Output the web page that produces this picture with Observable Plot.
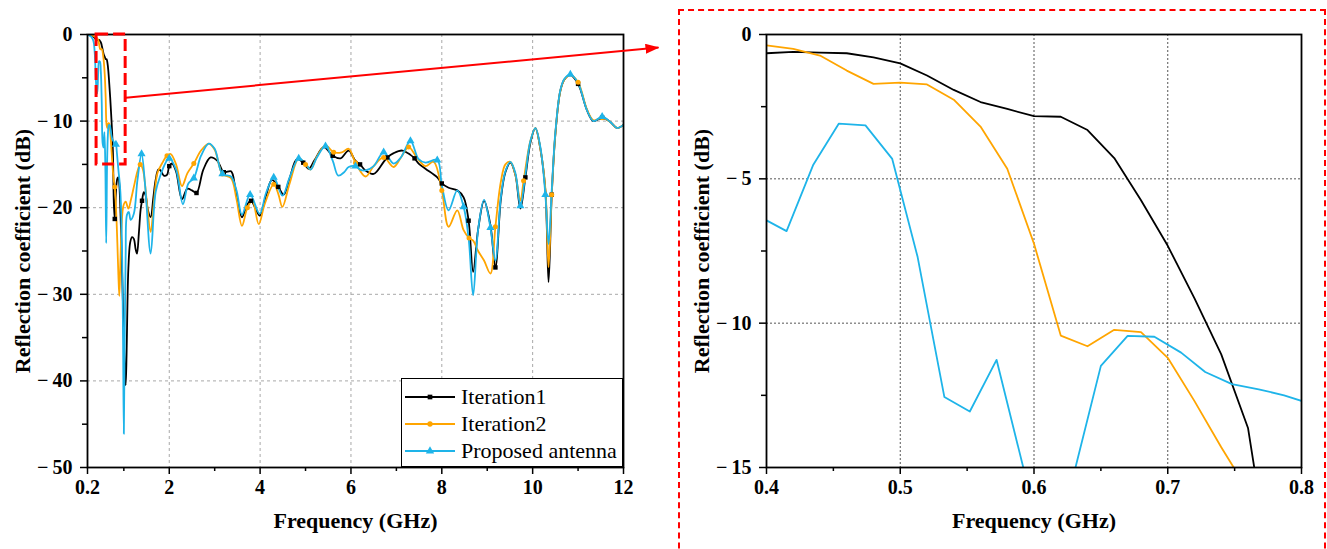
<!DOCTYPE html>
<html><head><meta charset="utf-8">
<script src="https://cdn.jsdelivr.net/npm/d3@7"></script>
<script src="https://cdn.jsdelivr.net/npm/@observablehq/plot@0.6"></script>
<style>
html,body{margin:0;padding:0;background:#fff;overflow:hidden;}
#wrap{position:relative;width:1327px;height:549px;overflow:hidden;}
#left{position:absolute;left:0;top:0;}
#right{position:absolute;left:680px;top:0;}
#frame{position:absolute;left:678px;top:9px;width:648px;height:620px;border:2px dashed #ff0000;box-sizing:border-box;pointer-events:none;}
#legend{position:absolute;left:401px;top:378px;width:222px;height:89px;border:1.5px solid #000;box-sizing:border-box;background:#fff;font-family:'Liberation Serif','Times New Roman',serif;font-size:22px;padding-top:4px;}
#legend .row{display:flex;align-items:center;height:27px;padding-left:2px;}
#legend svg{margin-right:5px;}
</style></head>
<body><div id="wrap"><div id="left"></div><div id="right"></div><div id="legend"></div><div id="frame"></div></div>
<script>
// ---------------- data ----------------
const seriesNames = ["Iteration1", "Iteration2", "Proposed antenna"];
const seriesColors = ["#000000", "#FFA500", "#1EB4E9"];
const seriesSymbols = ["square", "circle", "triangle"];

// [frequency GHz, reflection coefficient dB]
const iteration1 = [
 [0.2,0],[0.22,0],[0.24,-0.02],[0.26,-0.05],[0.28,-0.1],[0.3,-0.15],[0.32,-0.2],[0.34,-0.3],[0.36,-0.4],[0.38,-0.55],
 [0.4,-0.65],[0.42,-0.6],[0.44,-0.63],[0.46,-0.65],[0.48,-0.79],[0.5,-1.0],[0.52,-1.42],[0.54,-1.92],[0.56,-2.34],[0.58,-2.58],
 [0.6,-2.83],[0.62,-2.85],[0.64,-3.31],[0.66,-4.28],[0.68,-5.74],[0.7,-7.32],[0.72,-9.14],[0.74,-11.08],[0.76,-13.63],[0.78,-19.5],
 [0.8,-21.3],[0.82,-18.8],[0.84,-17.2],[0.86,-16.6],[0.88,-16.5],[0.9,-17.3],[0.92,-19.5],[0.94,-23],[0.96,-27],[0.98,-31],
 [1.0,-35],[1.02,-38.5],[1.04,-40.5],[1.06,-37],[1.08,-31],[1.1,-27],[1.14,-24],[1.18,-23.4],[1.22,-23.6],[1.26,-24.8],
 [1.29,-25.3],[1.33,-23],[1.37,-20.2],[1.4,-19.2],[1.44,-18.2],[1.48,-18.6],[1.53,-20.3],[1.59,-21.1],[1.65,-18.8],[1.7,-16.8],
 [1.76,-15.6],[1.81,-15.7],[1.88,-16.3],[1.95,-16.2],[2.0,-15.2],[2.06,-14.9],[2.15,-15.8],[2.28,-19.0],[2.4,-17.8],[2.5,-18.0],
 [2.6,-18.3],[2.75,-15.6],[2.91,-14.2],[3.06,-14.6],[3.2,-15.9],[3.36,-15.8],[3.45,-17.6],[3.6,-21.1],[3.72,-19.6],[3.8,-19.2],
 [3.99,-20.9],[4.13,-18.6],[4.26,-16.8],[4.4,-17.6],[4.52,-18.5],[4.65,-16.6],[4.81,-14.4],[4.95,-14.8],[5.07,-15.5],[5.2,-14.5],
 [5.4,-13.0],[5.6,-14.0],[5.77,-14.3],[5.95,-13.4],[6.1,-14.6],[6.2,-15.0],[6.32,-15.7],[6.5,-16.1],[6.72,-14.7],[6.8,-14.2],
 [6.94,-13.7],[7.13,-13.4],[7.31,-13.9],[7.4,-14.3],[7.49,-14.9],[7.64,-15.5],[7.9,-16.5],[8.0,-17.2],[8.15,-17.7],[8.34,-18.0],
 [8.48,-18.8],[8.59,-21.5],[8.69,-27.4],[8.8,-22.5],[8.93,-19.2],[9.07,-22.0],[9.18,-26.9],[9.3,-19.0],[9.4,-15.9],[9.51,-14.8],
 [9.62,-16.2],[9.73,-20.1],[9.84,-16.5],[9.95,-12.5],[10.06,-10.8],[10.17,-13.2],[10.28,-18.0],[10.35,-28.6],[10.42,-18.5],[10.5,-11.5],
 [10.61,-6.5],[10.7,-5.2],[10.83,-4.7],[11.0,-5.7],[11.2,-8.8],[11.34,-10.0],[11.53,-9.6],[11.71,-10.1],[11.86,-10.8],[12.0,-10.4]
];
const iteration2 = [
 [0.2,0],[0.22,0],[0.24,-0.02],[0.26,-0.04],[0.28,-0.07],[0.3,-0.1],[0.32,-0.14],[0.34,-0.2],[0.36,-0.26],[0.38,-0.32],
 [0.4,-0.38],[0.42,-0.5],[0.44,-0.73],[0.46,-1.25],[0.48,-1.71],[0.5,-1.67],[0.52,-1.73],[0.54,-2.26],[0.56,-3.19],[0.58,-4.65],
 [0.6,-7.25],[0.62,-10.43],[0.64,-10.8],[0.66,-10.23],[0.68,-10.31],[0.7,-11.2],[0.72,-12.7],[0.74,-14.3],[0.76,-15.8],[0.78,-16.9],
 [0.8,-17.6],[0.82,-19.2],[0.84,-21.5],[0.86,-24.5],[0.88,-27.8],[0.9,-30.2],[0.92,-27],[0.94,-23.5],[0.97,-20.5],[1.0,-19.6],
 [1.04,-19.3],[1.1,-20.1],[1.16,-19.0],[1.22,-17.6],[1.3,-15.8],[1.36,-15.0],[1.42,-15.6],[1.5,-19.0],[1.59,-22.8],[1.66,-19.5],
 [1.74,-16.0],[1.84,-14.9],[1.95,-14.0],[2.03,-13.8],[2.15,-15.0],[2.28,-17.5],[2.4,-16.0],[2.54,-14.9],[2.7,-13.4],[2.87,-12.6],
 [3.0,-13.3],[3.17,-16.1],[3.36,-16.6],[3.48,-19.0],[3.6,-22.1],[3.72,-20.0],[3.83,-19.2],[3.97,-21.9],[4.1,-19.6],[4.3,-17.3],
 [4.4,-18.4],[4.49,-19.9],[4.65,-17.2],[4.85,-14.3],[5.0,-15.0],[5.11,-15.6],[5.25,-14.1],[5.44,-12.8],[5.62,-13.6],[5.8,-13.6],
 [5.95,-13.2],[6.1,-14.8],[6.32,-16.4],[6.5,-15.2],[6.72,-14.2],[6.94,-15.3],[7.1,-14.2],[7.27,-13.0],[7.45,-14.2],[7.64,-15.2],
 [7.82,-14.7],[8.0,-18.0],[8.15,-22.2],[8.34,-20.3],[8.48,-22.6],[8.6,-23.5],[8.69,-23.8],[8.8,-25.0],[8.93,-26.1],[9.07,-27.6],
 [9.18,-22.2],[9.3,-17.0],[9.4,-15.0],[9.51,-14.7],[9.62,-16.2],[9.73,-19.2],[9.8,-16.9],[9.95,-12.3],[10.06,-10.8],[10.17,-13.2],
 [10.28,-17.8],[10.35,-26.9],[10.42,-18.5],[10.5,-11.5],[10.61,-6.5],[10.7,-5.2],[10.83,-4.7],[11.0,-5.5],[11.2,-8.7],[11.34,-9.9],
 [11.53,-9.6],[11.71,-10.1],[11.86,-10.8],[12.0,-10.4]
];
const proposed = [
 [0.2,0],[0.24,-0.1],[0.28,-0.25],[0.3,-0.4],[0.32,-0.6],[0.34,-1.0],[0.36,-2.2],[0.38,-4.6],[0.4,-6.44],[0.415,-6.81],
 [0.435,-4.51],[0.454,-3.09],[0.474,-3.15],[0.494,-4.31],[0.513,-7.71],[0.533,-12.56],[0.552,-13.06],[0.572,-11.27],[0.592,-15.0],[0.612,-24.1],
 [0.631,-15.0],[0.65,-11.48],[0.67,-10.44],[0.69,-10.47],[0.71,-11.02],[0.728,-11.69],[0.748,-12.11],[0.768,-12.29],[0.787,-12.5],[0.807,-12.8],
 [0.826,-12.7],[0.846,-13.6],[0.866,-14.8],[0.885,-15.9],[0.905,-16.9],[0.925,-18.3],[0.944,-21.0],[0.964,-26.0],[0.984,-36.0],[1.0,-46.1],
 [1.02,-34.0],[1.04,-25.5],[1.07,-20.8],[1.11,-20.5],[1.15,-21.4],[1.22,-20.7],[1.3,-16.8],[1.39,-13.8],[1.47,-17.5],[1.59,-25.3],
 [1.7,-18.2],[1.81,-16.2],[1.92,-14.8],[2.0,-14.3],[2.15,-15.6],[2.3,-19.6],[2.42,-17.2],[2.54,-16.6],[2.7,-14.0],[2.87,-12.6],
 [3.0,-13.2],[3.17,-16.1],[3.36,-16.4],[3.48,-18.0],[3.6,-20.8],[3.78,-18.5],[3.99,-20.7],[4.13,-18.3],[4.3,-16.5],[4.49,-18.6],
 [4.65,-16.5],[4.85,-14.3],[5.0,-14.9],[5.11,-15.6],[5.25,-14.2],[5.44,-12.9],[5.6,-14.6],[5.72,-16.3],[5.85,-15.9],[5.95,-15.3],
 [6.1,-15.2],[6.2,-15.6],[6.32,-15.7],[6.5,-15.2],[6.72,-13.6],[6.94,-14.9],[7.1,-14.2],[7.31,-12.3],[7.49,-14.4],[7.64,-14.8],
 [7.9,-14.5],[8.0,-17.4],[8.15,-20.3],[8.34,-18.0],[8.48,-19.9],[8.59,-23.5],[8.69,-30.1],[8.8,-22.5],[8.93,-19.1],[9.07,-22.3],
 [9.18,-26.1],[9.3,-18.8],[9.4,-15.8],[9.51,-14.7],[9.62,-16.0],[9.73,-19.8],[9.84,-16.2],[9.95,-12.3],[10.06,-10.8],[10.17,-13.0],
 [10.28,-18.5],[10.35,-24.2],[10.42,-18.0],[10.5,-11.3],[10.61,-6.4],[10.7,-5.1],[10.83,-4.6],[11.0,-5.6],[11.2,-8.8],[11.34,-10.0],
 [11.53,-9.5],[11.71,-10.1],[11.86,-10.8],[12.0,-10.4]
];
// frequencies at which the symbols sit on each curve
const markerFreqIter1 = [0.8,1.4,2.0,2.6,3.2,3.8,4.4,5.0,5.6,6.2,6.8,7.4,8.0,8.6,9.2,9.8,10.4,11.0,11.6];
const markerFreqIter2 = [0.8,1.36,1.95,2.54,3.17,3.75,4.35,4.95,5.55,6.15,6.75,7.35,7.97,8.6,9.18,9.78,10.39,11.0,11.6];
const markerFreqProp  = [0.82,1.39,1.97,2.56,3.15,3.74,4.33,4.92,5.51,6.1,6.72,7.31,7.9,8.48,9.1,9.73,10.28,10.9,11.53];

// axes
const leftXTicks = [0.2, 2, 4, 6, 8, 10, 12];
const leftXMinor = [1, 3, 5, 7, 9, 11];
const leftXGrid = [2, 4, 6, 8, 10];
const leftYTicks = [0, -10, -20, -30, -40, -50];
const leftYMinor = [-5, -15, -25, -35, -45];
const leftYGrid = [-10, -20, -30, -40];
const rightXTicks = [0.4, 0.5, 0.6, 0.7, 0.8];
const rightXMinor = [0.45, 0.55, 0.65, 0.75];
const rightXGrid = [0.5, 0.6, 0.7];
const rightYTicks = [0, -5, -10, -15];
const rightYMinor = [-2.5, -7.5, -12.5];
const rightYGrid = [-5, -10];

// zoom annotation (data coordinates of the left panel)
const zoomBoxFreq = [0.4, 1.04];
const zoomBoxDb = [-15, 0];
const arrowFrom = [1.04, -7.3];
const arrowTo = [12.77, -1.5];

const xTitle = "Frequency (GHz)";
const yTitle = "Reflection coefficient (dB)";

// ---------------- build ----------------
const toRows = (pairs, name) => pairs.map(([freq, db]) => ({freq, db, series: name}));
const allSeries = [iteration1, iteration2, proposed].map((p, i) => toRows(p, seriesNames[i]));
const markerFreqs = [markerFreqIter1, markerFreqIter2, markerFreqProp];
const markerRows = allSeries.map((rows, i) => markerFreqs[i].map(f => d3.least(rows, r => Math.abs(r.freq - f))));

const fontFamily = "'Liberation Serif','Times New Roman',serif";
const yFmt = d => d === 0 ? "0" : "\u2212\u2009" + Math.abs(d);
const svgStyle = {fontFamily, fontSize: "20px", fontWeight: "bold", background: "transparent"};

const leftLines = allSeries.map((rows, i) => Plot.line(rows, {x: "freq", y: "db", stroke: seriesColors[i], strokeWidth: 1.8, curve: "catmull-rom", clip: true}));
const leftDots = markerRows.map((rows, i) => Plot.dot(rows, {x: "freq", y: "db", symbol: seriesSymbols[i], r: i === 2 ? 3.0 : 2.5, fill: seriesColors[i], stroke: "none"}));

const leftChart = Plot.plot({
  width: 680, height: 549,
  marginLeft: 87, marginRight: 57, marginTop: 34, marginBottom: 82,
  x: {domain: [0.2, 12]},
  y: {domain: [-50, 0]},
  style: svgStyle,
  marks: [
    Plot.gridX(leftXGrid, {stroke: "#a8a8a8", strokeOpacity: 1, strokeDasharray: "3,3"}),
    Plot.gridY(leftYGrid, {stroke: "#a8a8a8", strokeOpacity: 1, strokeDasharray: "3,3"}),
    ...leftLines,
    ...leftDots,
    Plot.frame({stroke: "#000", strokeWidth: 1.8}),
    Plot.axisX(leftXTicks, {tickSize: 7, tickPadding: 5, tickFormat: d => String(d), label: null, strokeWidth: 1.5}),
    Plot.axisX(leftXMinor, {tickSize: 4, tickFormat: () => "", label: null, strokeWidth: 1.5}),
    Plot.axisY(leftYTicks, {tickSize: 7, tickPadding: 8, tickFormat: yFmt, label: null, strokeWidth: 1.5}),
    Plot.axisY(leftYMinor, {tickSize: 5, tickFormat: () => "", label: null, strokeWidth: 1.5}),
    Plot.rect([{}], {x1: () => zoomBoxFreq[0], x2: () => zoomBoxFreq[1], y1: () => zoomBoxDb[0], y2: () => zoomBoxDb[1], fill: "none", stroke: "#ff0000", strokeWidth: 3, strokeDasharray: "12,5"}),
    Plot.link([{}], {x1: () => arrowFrom[0], y1: () => arrowFrom[1], x2: () => arrowTo[0], y2: () => arrowTo[1], stroke: "#ff0000", strokeWidth: 2}),
    Plot.text([xTitle], {text: d => d, frameAnchor: "bottom", dy: 60, fontSize: 22, fontWeight: "bold"}),
    Plot.text([yTitle], {text: d => d, frameAnchor: "left", textAnchor: "middle", dx: -65, rotate: -90, fontSize: 22, fontWeight: "bold"})
  ]
});
document.getElementById("left").appendChild(leftChart);

// filled arrow head for the zoom arrow
{
  const svg = d3.select(leftChart);
  svg.append("defs").append("marker")
    .attr("id", "zoomArrowHead").attr("markerUnits", "userSpaceOnUse")
    .attr("viewBox", "0 0 14 10").attr("refX", 13).attr("refY", 5)
    .attr("markerWidth", 14).attr("markerHeight", 10).attr("orient", "auto")
    .append("path").attr("d", "M0,0L14,5L0,10Z").attr("fill", "#ff0000");
  svg.selectAll('g[aria-label="link"] path').attr("marker-end", "url(#zoomArrowHead)");
}

const rightLines = allSeries.map((rows, i) => Plot.line(rows.filter(r => r.freq >= 0.3 && r.freq <= 0.9), {x: "freq", y: "db", stroke: seriesColors[i], strokeWidth: 1.8, clip: true}));

const rightChart = Plot.plot({
  width: 647, height: 549,
  marginLeft: 86, marginRight: 26, marginTop: 34, marginBottom: 82,
  x: {domain: [0.4, 0.8]},
  y: {domain: [-15, 0]},
  style: svgStyle,
  marks: [
    Plot.gridX(rightXGrid, {stroke: "#555", strokeOpacity: 1, strokeDasharray: "2,2"}),
    Plot.gridY(rightYGrid, {stroke: "#555", strokeOpacity: 1, strokeDasharray: "2,2"}),
    ...rightLines,
    Plot.frame({stroke: "#000", strokeWidth: 1.8}),
    Plot.axisX(rightXTicks, {tickSize: 7, tickPadding: 5, tickFormat: d => d.toFixed(1), label: null, strokeWidth: 1.5}),
    Plot.axisX(rightXMinor, {tickSize: 4, tickFormat: () => "", label: null, strokeWidth: 1.5}),
    Plot.axisY(rightYTicks, {tickSize: 7, tickPadding: 8, tickFormat: yFmt, label: null, strokeWidth: 1.5}),
    Plot.axisY(rightYMinor, {tickSize: 5, tickFormat: () => "", label: null, strokeWidth: 1.5}),
    Plot.text([xTitle], {text: d => d, frameAnchor: "bottom", dy: 60, fontSize: 22, fontWeight: "bold"}),
    Plot.text([yTitle], {text: d => d, frameAnchor: "left", textAnchor: "middle", dx: -65, rotate: -90, fontSize: 22, fontWeight: "bold"})
  ]
});
document.getElementById("right").appendChild(rightChart);

// legend
{
  const legend = d3.select("#legend");
  seriesNames.forEach((name, i) => {
    const row = legend.append("div").attr("class", "row");
    const s = row.append("svg").attr("width", 52).attr("height", 14);
    s.append("line").attr("x1", 1).attr("x2", 51).attr("y1", 7).attr("y2", 7).attr("stroke", seriesColors[i]).attr("stroke-width", 2);
    s.append("path").attr("transform", "translate(26,7)").attr("d", d3.symbol(i === 0 ? d3.symbolSquare : i === 1 ? d3.symbolCircle : d3.symbolTriangle, i === 2 ? 30 : 22)()).attr("fill", seriesColors[i]);
    row.append("span").text(name);
  });
}
</script>
</body></html>
